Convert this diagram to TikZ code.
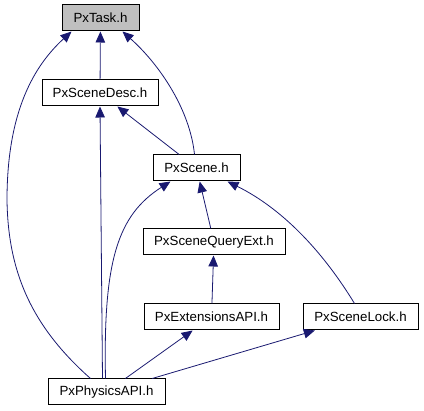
\documentclass[tikz,border=0pt]{standalone}
\usepackage{fontspec}
\setmainfont{Liberation Sans}
\usetikzlibrary{arrows.meta,positioning}
\definecolor{Edge}{HTML}{191970}
\definecolor{Root}{HTML}{BFBFBF}

\begin{document}
\begin{tikzpicture}[x=1pt,y=-1pt,
    hdr/.style={draw=black,line width=1pt,fill=white,minimum height=26pt,
      inner sep=0pt,font=\fontsize{13.3}{15}\selectfont},
    dep/.style={draw=Edge,line width=0.8pt,-{Triangle[length=11pt,width=9.5pt]}}
  ]
    \useasboundingbox (0,0) rectangle (424,411);
    \node[hdr,fill=Root,minimum width=77pt] (task) at (100.5,18) {PxTask.h};
    \node[hdr,minimum width=116pt] (desc) at (100,93) {PxSceneDesc.h};
    \node[hdr,minimum width=87pt] (scene) at (196.5,168) {PxScene.h};
    \node[hdr,minimum width=142pt] (query) at (214,242) {PxSceneQueryExt.h};
    \node[hdr,minimum width=135pt] (ext) at (211.5,317) {PxExtensionsAPI.h};
    \node[hdr,minimum width=115pt] (lock) at (360.5,317) {PxSceneLock.h};
    \node[hdr,minimum width=117pt] (phys) at (106.5,392) {PxPhysicsAPI.h};

    % include edges, arrow at the included file
    \draw[dep] (desc) -- (task);
    \draw[dep] ([xshift=-2]scene.north) .. controls (190,110) and (160,65)
      .. ([xshift=-17]task.south east);
    \draw[dep] ([xshift=-16]phys.north) .. controls (30,325) and (8,270) .. (7,200)
      .. controls (7,110) and (35,65) .. ([xshift=10]task.south west);
    \draw[dep] (scene) -- (desc);
    \draw[dep] ([xshift=-4]phys.north) -- ([xshift=0]desc.south);
    \draw[dep] ([xshift=-1]phys.north) .. controls (103,260) and (118,215)
      .. ([xshift=-26]scene.south);
    \draw[dep] (query) -- (scene);
    \draw[dep] ([xshift=-6]lock.north) .. controls (325,255) and (285,210)
      .. ([xshift=31]scene.south);
    \draw[dep] (ext) -- (query);
    \draw[dep] (phys) -- (ext);
    \draw[dep] (phys) -- (lock);
  \end{tikzpicture}
\end{document}
